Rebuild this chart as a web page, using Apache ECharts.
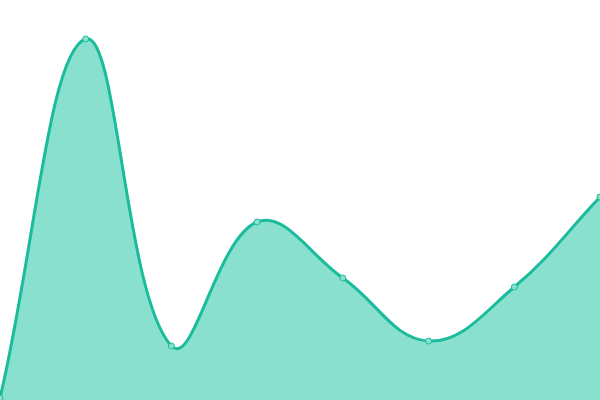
<!DOCTYPE html>
<html>
<head>
<meta charset="utf-8">
<script src="https://cdn.jsdelivr.net/npm/echarts@6/dist/echarts.min.js"></script>
<style>
  html, body { margin: 0; padding: 0; background: #fff; }
  #chart { width: 600px; height: 400px; }
</style>
</head>
<body>
<div id="chart"></div>
<script>
// Data
const categories = ['A', 'B', 'C', 'D', 'E', 'F', 'G', 'H']
const values = [2, 361, 54, 178, 122, 59, 113, 203]

const LINE_COLOR = '#1abc9c'
const FILL_COLOR = 'rgba(21, 193, 159, 0.5)'
const POINT_COLOR = '#8ae0cf'
const TENSION = 0.4

const chart = echarts.init(document.getElementById('chart'))

// Cardinal spline control points (overshooting, like a tension curve)
function controlPoints (prev, cur, next, t) {
  const d01 = Math.hypot(cur[0] - prev[0], cur[1] - prev[1])
  const d12 = Math.hypot(next[0] - cur[0], next[1] - cur[1])
  let s01 = d01 / (d01 + d12)
  let s12 = d12 / (d01 + d12)
  if (isNaN(s01)) s01 = 0
  if (isNaN(s12)) s12 = 0
  const fa = t * s01
  const fb = t * s12
  return {
    before: [cur[0] - fa * (next[0] - prev[0]), cur[1] - fa * (next[1] - prev[1])],
    after: [cur[0] + fb * (next[0] - prev[0]), cur[1] + fb * (next[1] - prev[1])]
  }
}

function renderCurve (params, api) {
  if (params.dataIndex !== 0) return
  const area = params.coordSys
  const clampPt = p => [
    Math.min(Math.max(p[0], area.x), area.x + area.width),
    Math.min(Math.max(p[1], area.y), area.y + area.height)
  ]
  const pts = values.map((v, i) => api.coord([i, v]))
  const cps = pts.map((p, i) => {
    const prev = pts[i - 1] || p
    const next = pts[i + 1] || p
    const c = controlPoints(prev, p, next, TENSION)
    return { before: clampPt(c.before), after: clampPt(c.after) }
  })
  let d = 'M' + pts[0][0] + ' ' + pts[0][1]
  for (let i = 1; i < pts.length; i++) {
    const a = cps[i - 1].after
    const b = cps[i].before
    d += ' C' + a[0] + ' ' + a[1] + ' ' + b[0] + ' ' + b[1] + ' ' + pts[i][0] + ' ' + pts[i][1]
  }
  const base = api.coord([0, 0])[1]
  const last = pts[pts.length - 1]
  const areaPath = d + ' L' + last[0] + ' ' + base + ' L' + pts[0][0] + ' ' + base + ' Z'

  return {
    type: 'group',
    children: [
      {
        type: 'path',
        shape: { pathData: areaPath },
        style: { fill: FILL_COLOR, stroke: null }
      },
      {
        type: 'path',
        shape: { pathData: d },
        style: { fill: null, stroke: LINE_COLOR, lineWidth: 3, lineJoin: 'round' }
      }
    ]
  }
}

chart.setOption({
  animation: false,
  grid: { left: 0, right: 0, top: 0, bottom: 0 },
  xAxis: {
    type: 'category',
    data: categories,
    boundaryGap: false,
    show: false
  },
  yAxis: {
    type: 'value',
    min: 0,
    max: 400,
    show: false
  },
  series: [
    {
      type: 'custom',
      data: values,
      renderItem: renderCurve,
      z: 2
    },
    {
      type: 'scatter',
      data: values,
      symbol: 'circle',
      symbolSize: 6,
      itemStyle: { color: POINT_COLOR, borderColor: LINE_COLOR, borderWidth: 1, opacity: 1 },
      z: 3
    }
  ]
})
</script>
</body>
</html>
